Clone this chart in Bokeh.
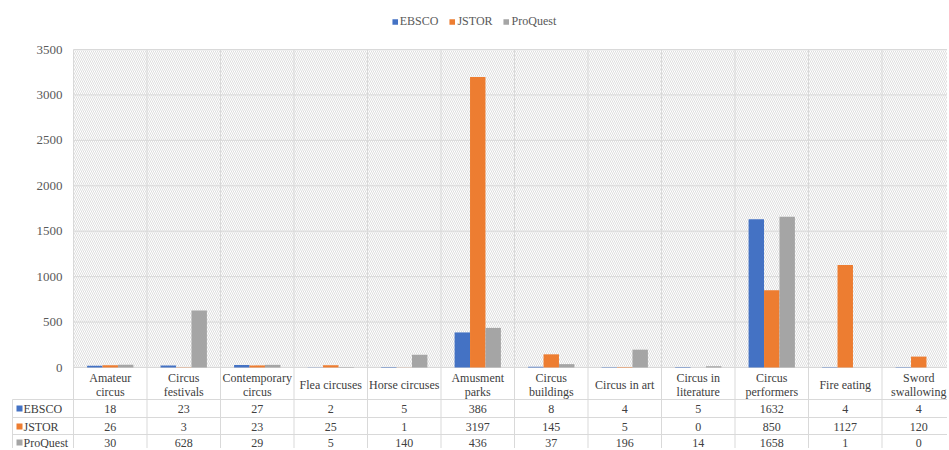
from bokeh.plotting import figure
from bokeh.models import Range1d, ColumnDataSource, Legend, LegendItem
from bokeh.core.properties import value
from bokeh.embed import file_html
from bokeh.resources import INLINE

# ---------------- data ----------------
categories = ["Amateur\ncircus", "Circus\nfestivals", "Contemporary\ncircus", "Flea circuses",
              "Horse circuses", "Amusment\nparks", "Circus\nbuildings", "Circus in art",
              "Circus in\nliterature", "Circus\nperformers", "Fire eating", "Sword\nswallowing"]
series_names = ["EBSCO", "JSTOR", "ProQuest"]
ebsco = [18, 23, 27, 2, 5, 386, 8, 4, 5, 1632, 4, 4]
jstor = [26, 3, 23, 25, 1, 3197, 145, 5, 0, 850, 1127, 120]
proquest = [30, 628, 29, 5, 140, 436, 37, 196, 14, 1658, 1, 0]
y_ticks = [0, 500, 1000, 1500, 2000, 2500, 3000, 3500]
colors = ["#4472C4", "#ED7D31", "#A5A5A5"]

# ---------------- layout helpers ----------------
W, H = 947, 448
ORIGIN = 0.0             # page px of the figure's top-left corner
CAT_PX = 73.5            # px per category
PY = 318.0 / 3500.0      # px per unit
X0 = 73.0                # page px of x = 0
Y0 = 367.0               # page px of y = 0

def xd(px):
    return (px - X0) / CAT_PX

def yd(px):
    return -(px - Y0) / PY

x_start, x_end = xd(ORIGIN), xd(ORIGIN + W)
y_start, y_end = yd(ORIGIN + H), yd(ORIGIN)

FONT_NAME = "'Liberation Serif'"
FONT = value(FONT_NAME)
GRID = "#d9d9d9"

p = figure(width=W, height=H, output_backend="svg", toolbar_location=None,
           x_range=Range1d(x_start, x_end), y_range=Range1d(y_start, y_end),
           x_axis_location=None, y_axis_location=None, min_border=0)
p.xgrid.visible = False
p.ygrid.visible = False
p.outline_line_color = None
p.background_fill_color = "white"

n = len(categories)

# hatched plot area
p.quad(left=[0], right=[x_end + 1], bottom=[0], top=[3500], fill_color="white",
       hatch_pattern="\\", hatch_color="#dedede", hatch_scale=4, hatch_weight=1,
       line_color=None)

# horizontal gridlines
p.segment(x0=[0] * len(y_ticks), x1=[x_end + 1] * len(y_ticks), y0=y_ticks, y1=y_ticks,
          line_color=GRID, line_width=1)
# vertical category separators (through the table)
p.segment(x0=list(range(n + 1)), x1=list(range(n + 1)), y0=[3500] * (n + 1),
          y1=[y_start] * (n + 1), line_color=GRID, line_width=1)

# table row borders
row_lines_px = [399, 417, 434]
p.segment(x0=[xd(12)] * 3, x1=[x_end + 1] * 3, y0=[yd(v) for v in row_lines_px],
          y1=[yd(v) for v in row_lines_px], line_color=GRID, line_width=1)
p.segment(x0=[xd(12)], x1=[xd(12)], y0=[yd(399)], y1=[y_start], line_color=GRID,
          line_width=1)

# bars
bw = 0.21
offsets = [-bw, 0.0, bw]
renderers = []
for vals, off, col in zip([ebsco, jstor, proquest], offsets, colors):
    src = ColumnDataSource(dict(x=[i + 0.5 + off for i in range(n)], top=vals))
    r = p.vbar(x="x", top="top", bottom=0, width=bw, source=src, fill_color=col,
               line_color=None)
    renderers.append(r)

# y tick labels
p.text(x=[xd(62)] * len(y_ticks), y=y_ticks, text=[str(t) for t in y_ticks],
       text_align="right", text_baseline="middle", text_font=FONT,
       text_font_size="13px", text_color="#595959")

# category header labels
cx, cy, ct = [], [], []
for i, c in enumerate(categories):
    parts = c.split("\n")
    if len(parts) == 1:
        cx.append(i + 0.5); cy.append(yd(384)); ct.append(parts[0])
    else:
        cx += [i + 0.5, i + 0.5]
        cy += [yd(377), yd(391)]
        ct += parts
p.text(x=cx, y=cy, text=ct, text_align="center", text_baseline="middle", text_font=FONT,
       text_font_size="12px", text_color="#404040")

# table values and row labels
row_centers_px = [408, 426, 442]
for vals, name, col, rpx in zip([ebsco, jstor, proquest], series_names, colors, row_centers_px):
    yy = yd(rpx)
    p.text(x=[i + 0.5 for i in range(n)], y=[yy] * n, text=[str(v) for v in vals],
           text_align="center", text_baseline="middle", text_font=FONT,
           text_font_size="12px", text_color="#404040")
    p.scatter(x=[xd(19)], y=[yy], marker="square", size=6, fill_color=col, line_color=None)
    p.text(x=[xd(23)], y=[yy], text=[name], text_align="left", text_baseline="middle",
           text_font=FONT, text_font_size="12px", text_color="#404040")

# top legend
legend = Legend(items=[LegendItem(label=nm, renderers=[r]) for nm, r in zip(series_names, renderers)],
                location="top_center", orientation="horizontal",
                background_fill_alpha=0, border_line_alpha=0,
                glyph_width=7, glyph_height=7, label_height=14, label_standoff=2,
                spacing=10, padding=0, margin=14,
                label_text_font=FONT_NAME, label_text_font_size="12px",
                label_text_color="#595959")
p.add_layout(legend)

open("out.html", "w").write(file_html(p, INLINE))
